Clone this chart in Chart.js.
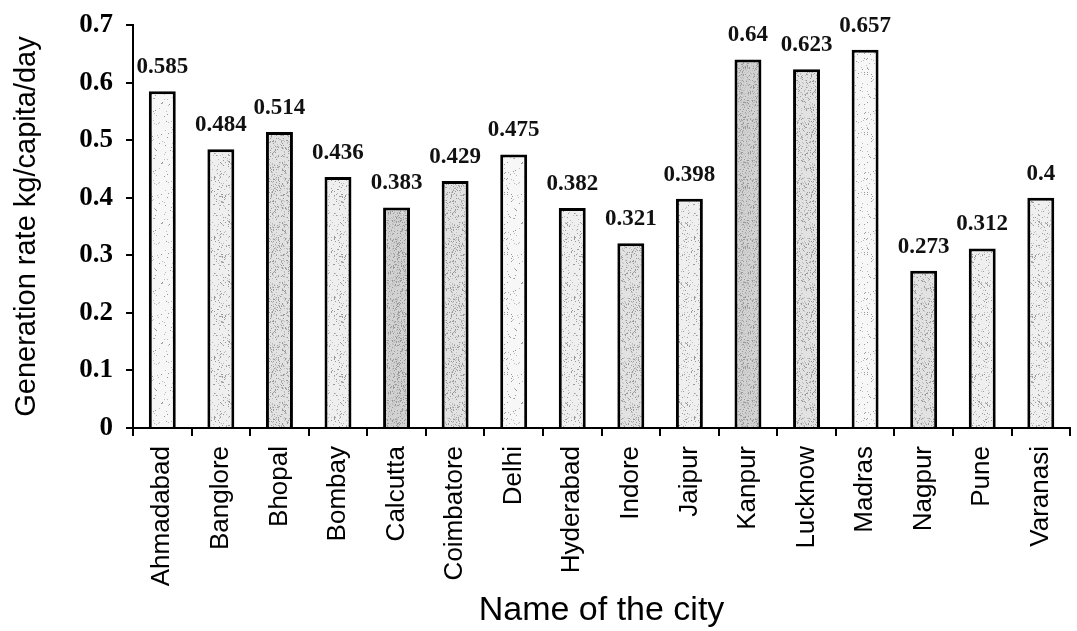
<!DOCTYPE html>
<html>
<head>
<meta charset="utf-8">
<script src="https://cdn.jsdelivr.net/npm/chart.js@4"></script>
<style>
  html, body { margin: 0; padding: 0; background: #fff; overflow: hidden; }
  #wrap { position: relative; width: 1082px; height: 631px; }
</style>
</head>
<body>
<div id="wrap"><canvas id="chart" width="1082" height="631"></canvas></div>
<script>
// Per-capita solid waste generation by city
const cities = ['Ahmadabad', 'Banglore', 'Bhopal', 'Bombay', 'Calcutta', 'Coimbatore', 'Delhi', 'Hyderabad',
                'Indore', 'Jaipur', 'Kanpur', 'Lucknow', 'Madras', 'Nagpur', 'Pune', 'Varanasi'];
const generationRate = [0.585, 0.484, 0.514, 0.436, 0.383, 0.429, 0.475, 0.382,
                        0.321, 0.398, 0.64, 0.623, 0.657, 0.273, 0.312, 0.4];
const yTicks = [0, 0.1, 0.2, 0.3, 0.4, 0.5, 0.6, 0.7];

// stipple tone for each bar (0 = sparse, 3 = dense)
const barTone = [0, 1, 2, 1, 3, 2, 0, 1, 2, 1, 3, 2, 0, 2, 1, 1];

// Grey stipple fill, like a halftone print
function stipple(tone) {
  const c = document.createElement('canvas');
  c.width = 30; c.height = 60;
  const g = c.getContext('2d');
  const base = ['#f7f7f7', '#efefef', '#e2e2e2', '#d2d2d2'][tone];
  g.fillStyle = base;
  g.fillRect(0, 0, c.width, c.height);
  const density = [0.05, 0.11, 0.2, 0.3][tone];
  let s = 17 + tone * 101;
  const next = () => { s = (s * 1103515245 + 12345) % 2147483648; return s / 2147483648; };
  for (let y = 0; y < c.height; y++) {
    for (let x = 0; x < c.width; x++) {
      if (next() < density) {
        g.fillStyle = next() < 0.5 ? '#9a9a9a' : '#bdbdbd';
        g.fillRect(x, y, 1, 1);
      }
    }
  }
  return g.createPattern(c, 'repeat');
}
const ctx = document.getElementById('chart').getContext('2d');
const fills = barTone.map(stipple);

const SERIF = "'Liberation Serif', 'DejaVu Serif', serif";
const SANS = "'Liberation Sans', Arial, sans-serif";

// Value written above each bar
const valueLabels = {
  id: 'valueLabels',
  afterDatasetsDraw(chart) {
    const c = chart.ctx;
    const meta = chart.getDatasetMeta(0);
    c.save();
    c.font = 'bold 23px ' + SERIF;
    c.fillStyle = '#111';
    c.textAlign = 'center';
    c.textBaseline = 'middle';
    meta.data.forEach((bar, i) => {
      c.fillText(String(generationRate[i]), bar.x, bar.y - 24);
    });
    c.restore();
  }
};

new Chart(ctx, {
  type: 'bar',
  data: {
    labels: cities,
    datasets: [{
      data: generationRate,
      backgroundColor: fills,
      borderColor: '#000',
      borderWidth: 3,
      borderSkipped: 'bottom',
      barPercentage: 0.46,
      categoryPercentage: 1.0
    }]
  },
  options: {
    responsive: false,
    animation: false,
    layout: { padding: { top: 25, right: 0, left: 0, bottom: 0 } },
    plugins: {
      legend: { display: false },
      tooltip: { enabled: false }
    },
    scales: {
      x: {
        grid: { display: true, drawOnChartArea: false, offset: true, color: '#000', lineWidth: 2, tickLength: 8 },
        border: { display: true, color: '#000', width: 2 },
        ticks: {
          color: '#000',
          font: { family: SANS, size: 26 },
          minRotation: 90, maxRotation: 90,
          padding: 10,
          autoSkip: false
        },
        title: {
          display: true,
          text: 'Name of the city',
          color: '#000',
          font: { family: SANS, size: 34 },
          padding: { top: 0, bottom: 0 }
        },
        afterFit(scale) { scale.height = 203; }
      },
      y: {
        min: 0, max: 0.7,
        afterBuildTicks(scale) { scale.ticks = yTicks.map(v => ({ value: v })); },
        grid: { display: true, drawOnChartArea: false, color: '#000', lineWidth: 2, tickLength: 7 },
        border: { display: true, color: '#000', width: 2 },
        ticks: {
          color: '#000',
          font: { family: SERIF, size: 27, weight: 'bold' },
          padding: 13,
          callback: v => String(Math.round(v * 10) / 10)
        },
        title: {
          display: true,
          text: 'Generation rate kg/capita/day',
          color: '#000',
          font: { family: SANS, size: 29 },
          padding: { top: 10, bottom: 0 }
        },
        afterFit(scale) {
          scale.width = 133;
          scale.paddingTop = 0;
          scale.paddingBottom = 0;
        }
      }
    }
  },
  plugins: [valueLabels]
});
</script>
</body>
</html>
